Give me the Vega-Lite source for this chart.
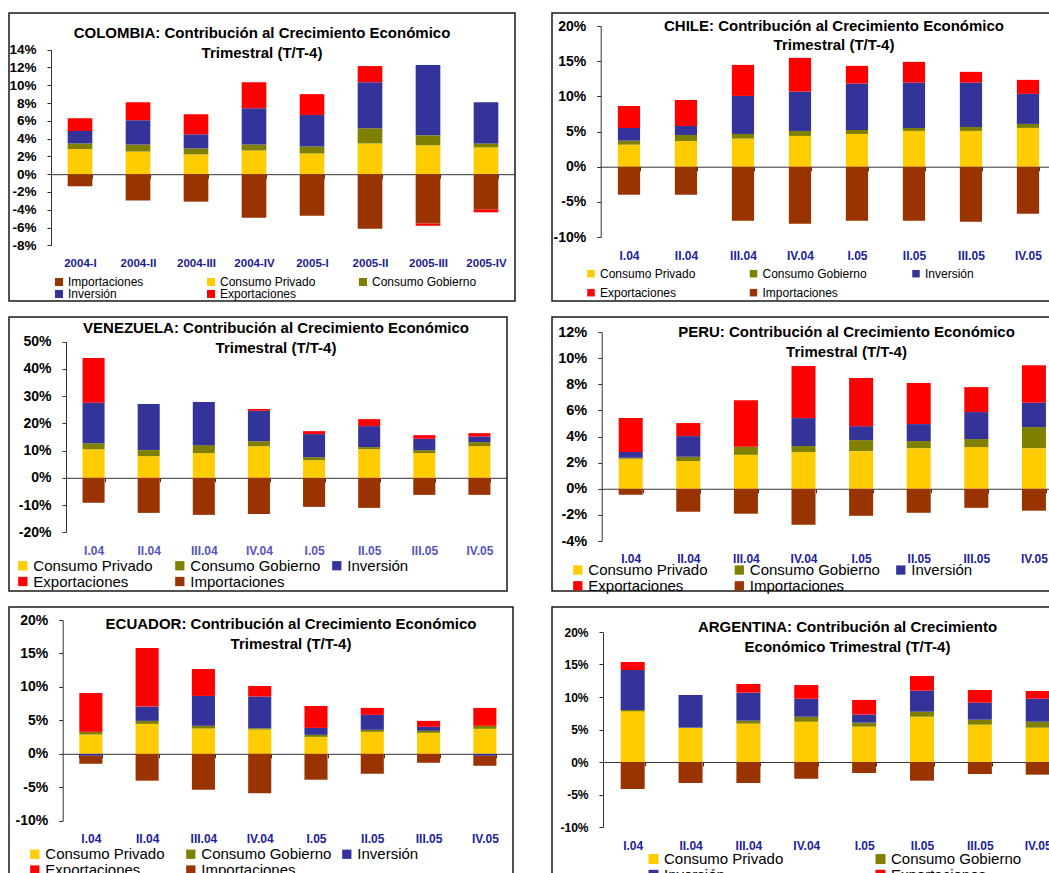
{
  "$schema": "https://vega.github.io/schema/vega-lite/v6.json",
  "padding": {"left": 8, "top": 12, "right": 0, "bottom": 0},
  "background": "white",
  "config": {
    "font": "Liberation Sans",
    "view": {"stroke": "#1a1a1a", "strokeWidth": 1.5},
    "axis": {"grid": false, "domainColor": "#333333", "tickColor": "#333333", "tickSize": 4, "labelFontWeight": "bold", "labelFont": "Liberation Sans"},
    "axisY": {"labelColor": "#000000", "labelPadding": 11, "labelOverlap": false},
    "axisX": {"labelAngle": 0, "tickBand": "extent", "zindex": 1, "labelOverlap": false},
    "legend": {"orient": "none", "direction": "horizontal", "gridAlign": "all", "symbolType": "square", "labelOffset": 3, "labelColor": "#000000", "symbolStrokeWidth": 0, "labelFont": "Liberation Sans"},
    "title": {"fontSize": 15, "fontWeight": "bold", "color": "#000000", "anchor": "middle", "frame": "group", "lineHeight": 20, "font": "Liberation Sans"}
  },
  "resolve": {"scale": {"color": "independent", "x": "independent", "y": "independent"}, "legend": {"color": "independent"}},
  "spacing": 35,
  "hconcat": [
    {
      "spacing": 16,
      "bounds": "flush",
      "resolve": {"scale": {"color": "independent", "x": "independent", "y": "independent"}, "legend": {"color": "independent"}},
      "vconcat": [
        {
          "width": 506, "height": 288,
          "title": {"text": ["COLOMBIA: Contribución al Crecimiento Económico", "Trimestral (T/T-4)"], "offset": -48},
          "data": {"values": [
            {"t": "2004-I", "Consumo Privado": 2.82, "Consumo Gobierno": 0.64, "Inversión": 1.40, "Exportaciones": 1.43, "Importaciones": -1.35},
            {"t": "2004-II", "Consumo Privado": 2.56, "Consumo Gobierno": 0.79, "Inversión": 2.71, "Exportaciones": 2.03, "Importaciones": -2.97},
            {"t": "2004-III", "Consumo Privado": 2.22, "Consumo Gobierno": 0.68, "Inversión": 1.58, "Exportaciones": 2.26, "Importaciones": -3.09},
            {"t": "2004-IV", "Consumo Privado": 2.67, "Consumo Gobierno": 0.68, "Inversión": 4.06, "Exportaciones": 2.94, "Importaciones": -4.89},
            {"t": "2005-I", "Consumo Privado": 2.33, "Consumo Gobierno": 0.79, "Inversión": 3.54, "Exportaciones": 2.34, "Importaciones": -4.67},
            {"t": "2005-II", "Consumo Privado": 3.46, "Consumo Gobierno": 1.70, "Inversión": 5.19, "Exportaciones": 1.81, "Importaciones": -6.13},
            {"t": "2005-III", "Consumo Privado": 3.24, "Consumo Gobierno": 1.13, "Inversión": 7.90, "Exportaciones": -0.27, "Importaciones": -5.53},
            {"t": "2005-IV", "Consumo Privado": 3.01, "Consumo Gobierno": 0.45, "Inversión": 4.63, "Exportaciones": -0.34, "Importaciones": -3.95}
          ]},
          "transform": [
            {"fold": ["Consumo Privado", "Consumo Gobierno", "Inversión", "Exportaciones", "Importaciones"], "as": ["c", "v"]},
            {"calculate": "indexof(['Consumo Privado','Consumo Gobierno','Inversión','Importaciones','Exportaciones'], datum.c)", "as": "o"}
          ],
          "mark": {"type": "bar"},
          "encoding": {
            "x": {"field": "t", "type": "nominal", "sort": null, "title": null,
              "scale": {"range": [42, 506], "paddingInner": 0.575, "paddingOuter": 0.2875, "round": false},
              "axis": {"orient": "bottom", "offset": -126.8, "labelPadding": 79.5, "labelFontSize": 11.5, "labelColor": "#1C1C8C"}},
            "y": {"field": "v", "type": "quantitative", "stack": "zero", "title": null,
              "scale": {"domain": [-8, 14], "range": [232.3, 36.7], "nice": false, "zero": false},
              "axis": {"values": [-8, -6, -4, -2, 0, 2, 4, 6, 8, 10, 12, 14], "offset": -42, "labelExpr": "datum.value + '%'", "labelFontSize": 13.5}},
            "color": {"field": "c", "type": "nominal",
              "scale": {"domain": ["Importaciones", "Consumo Privado", "Consumo Gobierno", "Inversión", "Exportaciones"], "range": ["#993300", "#FFCC00", "#808000", "#333399", "#FF0000"]},
              "legend": {"title": null, "legendX": 44, "legendY": 263, "columns": 3, "labelFontSize": 12, "symbolSize": 64, "columnPadding": 32, "rowPadding": -2}},
            "order": {"field": "o", "type": "quantitative"}
          }
        },
        {
          "width": 498, "height": 274,
          "title": {"text": ["VENEZUELA: Contribución al Crecimiento Económico", "Trimestral (T/T-4)"], "offset": -38.7, "dx": 18},
          "data": {"values": [
            {"t": "I.04", "Consumo Privado": 10.54, "Consumo Gobierno": 2.21, "Inversión": 14.82, "Exportaciones": 16.42, "Importaciones": -9.19},
            {"t": "II.04", "Consumo Privado": 7.97, "Consumo Gobierno": 2.21, "Inversión": 16.91, "Exportaciones": -0.3, "Importaciones": -12.57},
            {"t": "III.04", "Consumo Privado": 9.07, "Consumo Gobierno": 2.94, "Inversión": 15.81, "Exportaciones": 0, "Importaciones": -13.6},
            {"t": "IV.04", "Consumo Privado": 11.64, "Consumo Gobierno": 1.84, "Inversión": 11.15, "Exportaciones": 0.61, "Importaciones": -13.24},
            {"t": "I.05", "Consumo Privado": 6.50, "Consumo Gobierno": 1.10, "Inversión": 8.45, "Exportaciones": 1.10, "Importaciones": -10.66},
            {"t": "II.05", "Consumo Privado": 10.54, "Consumo Gobierno": 0.74, "Inversión": 7.72, "Exportaciones": 2.57, "Importaciones": -11.03},
            {"t": "III.05", "Consumo Privado": 9.07, "Consumo Gobierno": 1.10, "Inversión": 4.17, "Exportaciones": 1.35, "Importaciones": -6.25},
            {"t": "IV.05", "Consumo Privado": 11.64, "Consumo Gobierno": 1.47, "Inversión": 2.08, "Exportaciones": 1.23, "Importaciones": -6.25}
          ]},
          "transform": [
            {"fold": ["Consumo Privado", "Consumo Gobierno", "Inversión", "Exportaciones", "Importaciones"], "as": ["c", "v"]},
            {"calculate": "indexof(['Consumo Privado','Consumo Gobierno','Inversión','Exportaciones','Importaciones'], datum.c)", "as": "o"}
          ],
          "mark": {"type": "bar"},
          "encoding": {
            "x": {"field": "t", "type": "nominal", "sort": null, "title": null,
              "scale": {"range": [57, 498], "paddingInner": 0.6, "paddingOuter": 0.3, "round": false},
              "axis": {"orient": "bottom", "offset": -113.2, "labelPadding": 63.3, "labelFontSize": 12, "labelColor": "#5555BB"}},
            "y": {"field": "v", "type": "quantitative", "stack": "zero", "title": null,
              "scale": {"domain": [-20, 50], "range": [215.3, 24.7], "nice": false, "zero": false},
              "axis": {"values": [-20, -10, 0, 10, 20, 30, 40, 50], "offset": -57, "labelExpr": "datum.value + '%'", "labelFontSize": 14}},
            "color": {"field": "c", "type": "nominal",
              "scale": {"domain": ["Consumo Privado", "Consumo Gobierno", "Inversión", "Exportaciones", "Importaciones"], "range": ["#FFCC00", "#808000", "#333399", "#FF0000", "#993300"]},
              "legend": {"title": null, "legendX": 6.3, "legendY": 241, "columns": 3, "labelFontSize": 15, "symbolSize": 86, "columnPadding": 8, "rowPadding": 0}},
            "order": {"field": "o", "type": "quantitative"}
          }
        },
        {
          "width": 504, "height": 290,
          "title": {"text": ["ECUADOR: Contribución al Crecimiento Económico", "Trimestral (T/T-4)"], "offset": -44.7, "dx": 30},
          "data": {"values": [
            {"t": "I.04", "Consumo Privado": 2.88, "Consumo Gobierno": 0.40, "Inversión": -0.30, "Exportaciones": 5.81, "Importaciones": -1.19},
            {"t": "II.04", "Consumo Privado": 4.47, "Consumo Gobierno": 0.45, "Inversión": 2.14, "Exportaciones": 8.74, "Importaciones": -4.02},
            {"t": "III.04", "Consumo Privado": 3.78, "Consumo Gobierno": 0.40, "Inversión": 4.47, "Exportaciones": 4.02, "Importaciones": -5.37},
            {"t": "IV.04", "Consumo Privado": 3.63, "Consumo Gobierno": 0.20, "Inversión": 4.72, "Exportaciones": 1.59, "Importaciones": -5.91},
            {"t": "I.05", "Consumo Privado": 2.53, "Consumo Gobierno": 0.30, "Inversión": 1.04, "Exportaciones": 3.28, "Importaciones": -3.87},
            {"t": "II.05", "Consumo Privado": 3.28, "Consumo Gobierno": 0.30, "Inversión": 2.24, "Exportaciones": 1.04, "Importaciones": -2.98},
            {"t": "III.05", "Consumo Privado": 3.13, "Consumo Gobierno": 0.30, "Inversión": 0.60, "Exportaciones": 0.89, "Importaciones": -1.34},
            {"t": "IV.05", "Consumo Privado": 3.73, "Consumo Gobierno": 0.45, "Inversión": -0.30, "Exportaciones": 2.68, "Importaciones": -1.49}
          ]},
          "transform": [
            {"fold": ["Consumo Privado", "Consumo Gobierno", "Inversión", "Exportaciones", "Importaciones"], "as": ["c", "v"]},
            {"calculate": "indexof(['Consumo Privado','Consumo Gobierno','Inversión','Exportaciones','Importaciones'], datum.c)", "as": "o"}
          ],
          "mark": {"type": "bar"},
          "encoding": {
            "x": {"field": "t", "type": "nominal", "sort": null, "title": null,
              "scale": {"range": [53.7, 504], "paddingInner": 0.59, "paddingOuter": 0.295, "round": false},
              "axis": {"orient": "bottom", "offset": -143.2, "labelPadding": 75.7, "labelFontSize": 12, "labelColor": "#22229A"}},
            "y": {"field": "v", "type": "quantitative", "stack": "zero", "title": null,
              "scale": {"domain": [-10, 20], "range": [213.7, 13], "nice": false, "zero": false},
              "axis": {"values": [-10, -5, 0, 5, 10, 15, 20], "offset": -53.7, "labelExpr": "datum.value + '%'", "labelFontSize": 14}},
            "color": {"field": "c", "type": "nominal",
              "scale": {"domain": ["Consumo Privado", "Consumo Gobierno", "Inversión", "Exportaciones", "Importaciones"], "range": ["#FFCC00", "#808000", "#333399", "#FF0000", "#993300"]},
              "legend": {"title": null, "legendX": 18.3, "legendY": 239.5, "columns": 3, "labelFontSize": 15, "symbolSize": 86, "columnPadding": 7, "rowPadding": 0}},
            "order": {"field": "o", "type": "quantitative"}
          }
        }
      ]
    },
    {
      "spacing": 16,
      "bounds": "flush",
      "resolve": {"scale": {"color": "independent", "x": "independent", "y": "independent"}, "legend": {"color": "independent"}},
      "vconcat": [
        {
          "width": 540, "height": 288,
          "title": {"text": ["CHILE: Contribución al Crecimiento Económico", "Trimestral (T/T-4)"], "offset": -39.7, "dx": 12, "lineHeight": 19},
          "data": {"values": [
            {"t": "I.04", "Consumo Privado": 3.13, "Consumo Gobierno": 0.57, "Inversión": 1.80, "Exportaciones": 3.13, "Importaciones": -3.99},
            {"t": "II.04", "Consumo Privado": 3.65, "Consumo Gobierno": 0.85, "Inversión": 1.28, "Exportaciones": 3.70, "Importaciones": -3.99},
            {"t": "III.04", "Consumo Privado": 3.99, "Consumo Gobierno": 0.66, "Inversión": 5.41, "Exportaciones": 4.41, "Importaciones": -7.69},
            {"t": "IV.04", "Consumo Privado": 4.37, "Consumo Gobierno": 0.71, "Inversión": 5.60, "Exportaciones": 4.79, "Importaciones": -8.12},
            {"t": "I.05", "Consumo Privado": 4.65, "Consumo Gobierno": 0.57, "Inversión": 6.60, "Exportaciones": 2.51, "Importaciones": -7.69},
            {"t": "II.05", "Consumo Privado": 5.08, "Consumo Gobierno": 0.43, "Inversión": 6.45, "Exportaciones": 2.94, "Importaciones": -7.69},
            {"t": "III.05", "Consumo Privado": 5.08, "Consumo Gobierno": 0.57, "Inversión": 6.31, "Exportaciones": 1.52, "Importaciones": -7.83},
            {"t": "IV.05", "Consumo Privado": 5.51, "Consumo Gobierno": 0.57, "Inversión": 4.27, "Exportaciones": 1.99, "Importaciones": -6.69}
          ]},
          "transform": [
            {"fold": ["Consumo Privado", "Consumo Gobierno", "Inversión", "Exportaciones", "Importaciones"], "as": ["c", "v"]},
            {"calculate": "indexof(['Consumo Privado','Consumo Gobierno','Inversión','Exportaciones','Importaciones'], datum.c)", "as": "o"}
          ],
          "mark": {"type": "bar"},
          "encoding": {
            "x": {"field": "t", "type": "nominal", "sort": null, "title": null,
              "scale": {"range": [48.7, 510], "paddingInner": 0.61, "paddingOuter": 0.3515, "align": 0.428, "round": false},
              "axis": {"orient": "bottom", "offset": -134.3, "labelPadding": 80.1, "labelFontSize": 12, "labelColor": "#22229A"}},
            "y": {"field": "v", "type": "quantitative", "stack": "zero", "title": null,
              "scale": {"domain": [-10, 20], "range": [224, 13], "nice": false, "zero": false},
              "axis": {"values": [-10, -5, 0, 5, 10, 15, 20], "offset": -48.7, "labelExpr": "datum.value + '%'", "labelFontSize": 14}},
            "color": {"field": "c", "type": "nominal",
              "scale": {"domain": ["Consumo Privado", "Consumo Gobierno", "Inversión", "Exportaciones", "Importaciones"], "range": ["#FFCC00", "#808000", "#333399", "#FF0000", "#993300"]},
              "legend": {"title": null, "legendX": 33, "legendY": 254.7, "columns": 3, "labelFontSize": 12, "symbolSize": 56, "columnPadding": 42.5, "rowPadding": 7}},
            "order": {"field": "o", "type": "quantitative"}
          }
        },
        {
          "width": 540, "height": 274,
          "title": {"text": ["PERU: Contribución al Crecimiento Económico", "Trimestral (T/T-4)"], "offset": -42.7, "dx": 24.5},
          "data": {"values": [
            {"t": "I.04", "Consumo Privado": 2.30, "Consumo Gobierno": 0.08, "Inversión": 0.43, "Exportaciones": 2.60, "Importaciones": -0.46},
            {"t": "II.04", "Consumo Privado": 2.12, "Consumo Gobierno": 0.33, "Inversión": 1.58, "Exportaciones": 1.00, "Importaciones": -1.76},
            {"t": "III.04", "Consumo Privado": 2.60, "Consumo Gobierno": 0.61, "Inversión": 0, "Exportaciones": 3.57, "Importaciones": -1.91},
            {"t": "IV.04", "Consumo Privado": 2.81, "Consumo Gobierno": 0.46, "Inversión": 2.14, "Exportaciones": 3.99, "Importaciones": -2.76},
            {"t": "I.05", "Consumo Privado": 2.88, "Consumo Gobierno": 0.84, "Inversión": 1.07, "Exportaciones": 3.68, "Importaciones": -2.07},
            {"t": "II.05", "Consumo Privado": 3.11, "Consumo Gobierno": 0.54, "Inversión": 1.30, "Exportaciones": 3.14, "Importaciones": -1.84},
            {"t": "III.05", "Consumo Privado": 3.19, "Consumo Gobierno": 0.61, "Inversión": 2.07, "Exportaciones": 1.91, "Importaciones": -1.46},
            {"t": "IV.05", "Consumo Privado": 3.11, "Consumo Gobierno": 1.61, "Inversión": 1.86, "Exportaciones": 2.88, "Importaciones": -1.68}
          ]},
          "transform": [
            {"fold": ["Consumo Privado", "Consumo Gobierno", "Inversión", "Exportaciones", "Importaciones"], "as": ["c", "v"]},
            {"calculate": "indexof(['Consumo Privado','Consumo Gobierno','Inversión','Exportaciones','Importaciones'], datum.c)", "as": "o"}
          ],
          "mark": {"type": "bar"},
          "encoding": {
            "x": {"field": "t", "type": "nominal", "sort": null, "title": null,
              "scale": {"range": [49.7, 510], "paddingInner": 0.583, "paddingOuter": 0.287, "align": 0.514, "round": false},
              "axis": {"orient": "bottom", "offset": -102.25, "labelPadding": 60.75, "labelFontSize": 12, "labelColor": "#22229A"}},
            "y": {"field": "v", "type": "quantitative", "stack": "zero", "title": null,
              "scale": {"domain": [-4, 12], "range": [224, 15], "nice": false, "zero": false},
              "axis": {"values": [-4, -2, 0, 2, 4, 6, 8, 10, 12], "offset": -49.7, "labelExpr": "datum.value + '%'", "labelFontSize": 14.5}},
            "color": {"field": "c", "type": "nominal",
              "scale": {"domain": ["Consumo Privado", "Consumo Gobierno", "Inversión", "Exportaciones", "Importaciones"], "range": ["#FFCC00", "#808000", "#333399", "#FF0000", "#993300"]},
              "legend": {"title": null, "legendX": 18.3, "legendY": 245.3, "columns": 3, "labelFontSize": 15, "symbolSize": 86, "columnPadding": 12.5, "rowPadding": 0}},
            "order": {"field": "o", "type": "quantitative"}
          }
        },
        {
          "width": 540, "height": 290,
          "title": {"text": ["ARGENTINA: Contribución al Crecimiento", "Económico Trimestral (T/T-4)"], "offset": -47.7, "dx": 25.5},
          "data": {"values": [
            {"t": "I.04", "Consumo Privado": 7.79, "Consumo Gobierno": 0.21, "Inversión": 6.15, "Exportaciones": 1.23, "Importaciones": -4.15},
            {"t": "II.04", "Consumo Privado": 5.28, "Consumo Gobierno": 0, "Inversión": 5.03, "Exportaciones": 0, "Importaciones": -3.23},
            {"t": "III.04", "Consumo Privado": 5.90, "Consumo Gobierno": 0.46, "Inversión": 4.31, "Exportaciones": 1.33, "Importaciones": -3.23},
            {"t": "IV.04", "Consumo Privado": 6.21, "Consumo Gobierno": 0.77, "Inversión": 2.77, "Exportaciones": 2.10, "Importaciones": -2.56},
            {"t": "I.05", "Consumo Privado": 5.44, "Consumo Gobierno": 0.62, "Inversión": 1.23, "Exportaciones": 2.26, "Importaciones": -1.69},
            {"t": "II.05", "Consumo Privado": 6.97, "Consumo Gobierno": 0.77, "Inversión": 3.23, "Exportaciones": 2.26, "Importaciones": -2.87},
            {"t": "III.05", "Consumo Privado": 5.74, "Consumo Gobierno": 0.77, "Inversión": 2.62, "Exportaciones": 1.95, "Importaciones": -1.85},
            {"t": "IV.05", "Consumo Privado": 5.28, "Consumo Gobierno": 0.92, "Inversión": 3.54, "Exportaciones": 1.18, "Importaciones": -1.95}
          ]},
          "transform": [
            {"fold": ["Consumo Privado", "Consumo Gobierno", "Inversión", "Exportaciones", "Importaciones"], "as": ["c", "v"]},
            {"calculate": "indexof(['Consumo Privado','Consumo Gobierno','Inversión','Exportaciones','Importaciones'], datum.c)", "as": "o"}
          ],
          "mark": {"type": "bar"},
          "encoding": {
            "x": {"field": "t", "type": "nominal", "sort": null, "title": null,
              "scale": {"range": [51, 510], "paddingInner": 0.585, "paddingOuter": 0.259, "align": 0.59, "round": false},
              "axis": {"orient": "bottom", "offset": -135, "labelPadding": 74.8, "labelFontSize": 12, "labelColor": "#22229A"}},
            "y": {"field": "v", "type": "quantitative", "stack": "zero", "title": null,
              "scale": {"domain": [-10, 20], "range": [220, 25], "nice": false, "zero": false},
              "axis": {"values": [-10, -5, 0, 5, 10, 15, 20], "offset": -51, "labelExpr": "datum.value + '%'", "labelFontSize": 12}},
            "color": {"field": "c", "type": "nominal",
              "scale": {"domain": ["Consumo Privado", "Consumo Gobierno", "Inversión", "Exportaciones", "Importaciones"], "range": ["#FFCC00", "#808000", "#333399", "#FF0000", "#993300"]},
              "legend": {"title": null, "legendX": 94, "legendY": 244.3, "columns": 2, "labelFontSize": 15, "symbolSize": 100, "columnPadding": 78, "rowPadding": 0}},
            "order": {"field": "o", "type": "quantitative"}
          }
        }
      ]
    }
  ]
}
